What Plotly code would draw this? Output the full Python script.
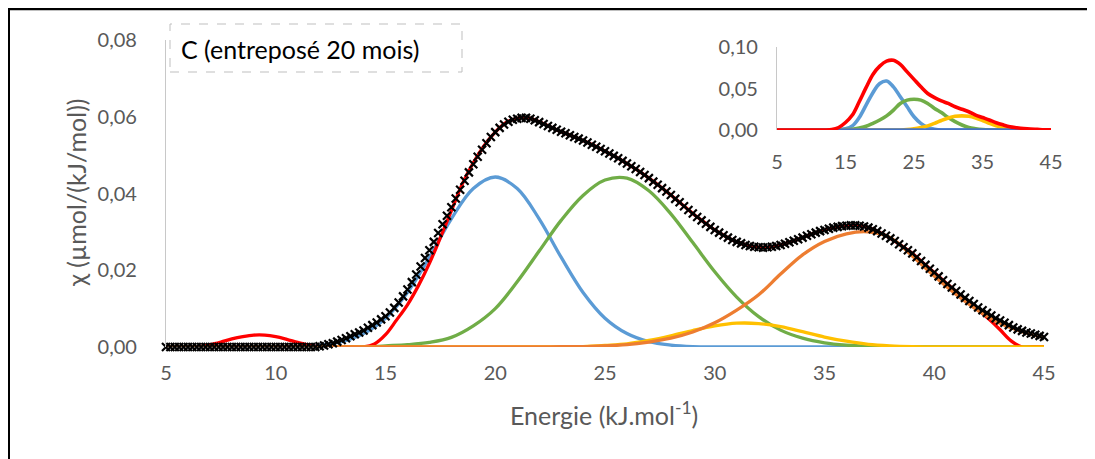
import numpy as np
import plotly.graph_objects as go

# The page body has an 8px margin, so the figure is drawn 8px in from the window edge.
OFF = 8
W, H = 1095 - OFF, 459 - OFF

# ---------------- data (main chart) ----------------
energy_data = np.round(np.arange(5, 45.0001, 0.2), 1)
chi_data = [
    0, 0, 0, 0, 0, 0, 0, 0, 0, 0,
    0, 0, 0, 0, 0, 0, 0, 0, 0, 0,
    0, 0, 0, 0, 0, 0, 0, 0, 0, 0,
    0, 0, 0, 0, 0,
    0.0002, 0.0004, 0.0007, 0.0010, 0.0014, 0.0018, 0.0023, 0.0028, 0.0033, 0.0038,
    0.0043, 0.0050, 0.0057, 0.0064, 0.0072, 0.0080, 0.0090, 0.0102, 0.0116, 0.0132,
    0.0150, 0.0169, 0.0189, 0.0210, 0.0232, 0.0252, 0.0274, 0.0297, 0.0320, 0.0342,
    0.0364, 0.0387, 0.0410, 0.0433, 0.0455, 0.0476, 0.0496, 0.0514, 0.0531, 0.0547,
    0.0560, 0.0571, 0.0580, 0.0587, 0.0592, 0.0595, 0.0597, 0.0597, 0.0595, 0.0591,
    0.0586, 0.0581, 0.0576, 0.0571, 0.0566, 0.0561, 0.0557, 0.0552, 0.0547, 0.0543,
    0.0538, 0.0533, 0.0527, 0.0522, 0.0516, 0.0510, 0.0504, 0.0498, 0.0492, 0.0485,
    0.0478, 0.0471, 0.0464, 0.0456, 0.0448, 0.0440, 0.0431, 0.0423, 0.0414, 0.0405,
    0.0396, 0.0386, 0.0377, 0.0367, 0.0357, 0.0348, 0.0339, 0.0330, 0.0321, 0.0313,
    0.0305, 0.0298, 0.0291, 0.0285, 0.0279, 0.0274, 0.0270, 0.0266, 0.0263, 0.0261,
    0.0260, 0.0259, 0.0260, 0.0261, 0.0263, 0.0266, 0.0269, 0.0273, 0.0277, 0.0281,
    0.0285, 0.0290, 0.0294, 0.0298, 0.0302, 0.0305, 0.0308, 0.0311, 0.0313, 0.0315,
    0.0316, 0.0317, 0.0317, 0.0316, 0.0314, 0.0311, 0.0307, 0.0302, 0.0296, 0.0290,
    0.0283, 0.0276, 0.0268, 0.0260, 0.0252, 0.0244, 0.0234, 0.0224, 0.0214, 0.0204,
    0.0194, 0.0184, 0.0174, 0.0164, 0.0155, 0.0146, 0.0137, 0.0128, 0.0120, 0.0112,
    0.0103, 0.0096, 0.0089, 0.0082, 0.0075, 0.0069, 0.0063, 0.0057, 0.0051, 0.0046,
    0.0042, 0.0038, 0.0035, 0.0032, 0.0029, 0.0026,
]

energy_fit = np.round(np.arange(5, 45.0001, 0.5), 1)
chi_fit = [
    0, 0, 0, 0.0001, 0.0006, 0.0013, 0.0021, 0.0027, 0.0031, 0.0031,
    0.0027, 0.0020, 0.0012, 0.0005, 0.0001, 0, 0, 0, 0, 0.0008,
    0.0032, 0.0070, 0.0110, 0.0160, 0.0218, 0.0285, 0.0355, 0.0425, 0.0480, 0.0525,
    0.0560, 0.0585, 0.0596, 0.0597, 0.0587, 0.0574, 0.0561, 0.0550, 0.0538, 0.0525,
    0.0510, 0.0495, 0.0478, 0.0460, 0.0440, 0.0419, 0.0396, 0.0372, 0.0348, 0.0326,
    0.0305, 0.0288, 0.0274, 0.0265, 0.0260, 0.0260, 0.0266, 0.0275, 0.0285, 0.0296,
    0.0305, 0.0312, 0.0316, 0.0317, 0.0311, 0.0299, 0.0283, 0.0264, 0.0244, 0.0219,
    0.0194, 0.0169, 0.0144, 0.0120, 0.0097, 0.0072, 0.0045, 0.0016, 0, 0,
    0,
]

energy_comp = list(range(5, 46))
chi_blue = [
    0, 0, 0, 0, 0, 0, 0.0001, 0.0005, 0.0014, 0.0035,
    0.0075, 0.0142, 0.0234, 0.0334, 0.0413, 0.0443, 0.0413, 0.0334, 0.0234, 0.0142,
    0.0075, 0.0035, 0.0014, 0.0005, 0.0001, 0, 0, 0, 0, 0,
    0, 0, 0, 0, 0, 0, 0, 0, 0, 0, 0,
]
chi_green = [
    0, 0, 0, 0, 0, 0, 0, 0, 0, 0,
    0.0003, 0.0006, 0.0012, 0.0025, 0.0055, 0.0100, 0.0170, 0.0250, 0.0330, 0.0395,
    0.0435, 0.0440, 0.0407, 0.0347, 0.0272, 0.0196, 0.0130, 0.0079, 0.0044, 0.0023,
    0.0011, 0.0005, 0.0002, 0.0001, 0, 0, 0, 0, 0, 0, 0,
]
chi_yellow = [
    0, 0, 0, 0, 0, 0, 0, 0, 0, 0,
    0, 0, 0, 0, 0, 0, 0, 0, 0, 0.0001,
    0.0004, 0.0008, 0.0017, 0.0029, 0.0043, 0.0055, 0.0062, 0.0061, 0.0053, 0.0040,
    0.0026, 0.0015, 0.0007, 0.0003, 0.0001, 0, 0, 0, 0, 0, 0,
]
chi_orange = [
    0, 0, 0, 0, 0, 0, 0, 0, 0, 0,
    0, 0, 0, 0, 0, 0, 0, 0, 0.0001, 0.0001,
    0.0003, 0.0006, 0.0013, 0.0023, 0.0039, 0.0063, 0.0096, 0.0136, 0.0190, 0.0240,
    0.0275, 0.0295, 0.0300, 0.0285, 0.0237, 0.0185, 0.0137, 0.0095, 0.0062, 0.0040,
    0.0025,
]

# ---------------- data (inset) ----------------
inset_red = [
    0, 0, 0, 0, 0, 0, 0, 0, 0.0005, 0.003,
    0.009, 0.018, 0.034, 0.051, 0.067, 0.077, 0.083, 0.084, 0.079, 0.070,
    0.061, 0.052, 0.044, 0.039, 0.035, 0.032, 0.028, 0.025, 0.022, 0.018,
    0.015, 0.012, 0.0088, 0.0062, 0.004, 0.0028, 0.0018, 0.0011, 0.0007, 0.0003,
    0.0001,
]
inset_blue = [
    0, 0, 0, 0, 0, 0, 0, 0, 0, 0.0005,
    0.0015, 0.005, 0.015, 0.030, 0.045, 0.056, 0.059, 0.052, 0.040, 0.028,
    0.016, 0.008, 0.003, 0.001, 0, 0, 0, 0, 0, 0,
    0, 0, 0, 0, 0, 0, 0, 0, 0, 0, 0,
]
inset_green = [
    0, 0, 0, 0, 0, 0, 0, 0, 0, 0,
    0.0005, 0.001, 0.0025, 0.0045, 0.008, 0.012, 0.017, 0.024, 0.032, 0.036,
    0.037, 0.036, 0.032, 0.026, 0.021, 0.015, 0.010, 0.006, 0.003, 0.0015,
    0.0005, 0, 0, 0, 0, 0, 0, 0, 0, 0, 0,
]
inset_yellow = [
    0, 0, 0, 0, 0, 0, 0, 0, 0, 0,
    0, 0, 0, 0, 0, 0, 0, 0, 0, 0.0005,
    0.0015, 0.003, 0.005, 0.008, 0.0115, 0.0145, 0.0165, 0.017, 0.0165, 0.0145,
    0.0115, 0.008, 0.005, 0.003, 0.0015, 0.0005, 0, 0, 0, 0, 0,
]
inset_base = [0] * 41

x_ticks_main = [5, 10, 15, 20, 25, 30, 35, 40, 45]
y_ticks_main = [0, 0.02, 0.04, 0.06, 0.08]
x_ticks_inset = [5, 15, 25, 35, 45]
y_ticks_inset = [0, 0.05, 0.10]

BLUE, GREEN, ORANGE, YELLOW, RED, DBLUE = "#5B9BD5", "#70AD47", "#ED7D31", "#FFC000", "#FF0000", "#4472C4"
FONT = "Lato"
TICKC = "#595959"
TICK_SIZE = 20
TITLE_SIZE = 25

fig = go.Figure()


def line(x, y, color, xa="x", ya="y", w=3.3):
    fig.add_trace(go.Scatter(x=x, y=y, mode="lines",
                             line=dict(color=color, width=w, shape="spline", smoothing=1.0),
                             xaxis=xa, yaxis=ya, cliponaxis=False, showlegend=False, hoverinfo="skip"))


# main chart
line(energy_comp, chi_blue, BLUE)
line(energy_comp, chi_green, GREEN)
line(energy_fit, chi_fit, RED)
line(energy_comp, chi_yellow, YELLOW)
line(energy_comp, chi_orange, ORANGE)
fig.add_trace(go.Scatter(x=energy_data, y=chi_data, mode="markers",
                         marker=dict(symbol="x-thin", size=8, color="black",
                                     line=dict(color="black", width=2.2)),
                         cliponaxis=False, showlegend=False, hoverinfo="skip"))

# inset
line(energy_comp, inset_blue, BLUE, "x2", "y2", 3.6)
line(energy_comp, inset_green, GREEN, "x2", "y2", 3.6)
line(energy_comp, inset_yellow, YELLOW, "x2", "y2", 3.6)
line(energy_comp, inset_base, DBLUE, "x2", "y2", 3.6)
line(energy_comp, inset_red, RED, "x2", "y2", 3.6)


def px_x(p):
    return (p - OFF) / W


def px_y(p):
    return 1 - (p - OFF) / H


fig.update_layout(
    width=W, height=H,
    margin=dict(l=0, r=0, t=0, b=0),
    paper_bgcolor="white", plot_bgcolor="rgba(0,0,0,0)",
    separators=", ",
    font=dict(family=FONT, color=TICKC, size=TICK_SIZE),
    xaxis=dict(domain=[px_x(166), px_x(1044)], range=[5, 45], tickvals=x_ticks_main,
               showgrid=False, zeroline=False, showline=False, ticks="",
               ticklabelstandoff=12, tickfont=dict(size=TICK_SIZE, color=TICKC), automargin=False),
    yaxis=dict(domain=[px_y(347), px_y(40)], range=[0, 0.08], tickvals=y_ticks_main, tickformat=".2f",
               showgrid=False, zeroline=False, showline=True, linecolor="#C8C8C8", linewidth=1.2,
               ticks="", ticklabelstandoff=24, tickfont=dict(size=TICK_SIZE, color=TICKC), automargin=False),
    xaxis2=dict(domain=[px_x(777), px_x(1051)], range=[5, 45], tickvals=x_ticks_inset, anchor="y2",
                showgrid=False, zeroline=False, showline=False, ticks="",
                ticklabelstandoff=18, tickfont=dict(size=TICK_SIZE, color=TICKC), automargin=False),
    yaxis2=dict(domain=[px_y(130), px_y(47)], range=[0, 0.10], tickvals=y_ticks_inset, tickformat=".2f",
                anchor="x2", showgrid=False, zeroline=False, showline=True, linecolor="#C8C8C8", linewidth=1.2,
                ticks="", ticklabelstandoff=14, tickfont=dict(size=TICK_SIZE, color=TICKC), automargin=False),
    shapes=[
        dict(type="rect", xref="paper", yref="paper", x0=px_x(170), x1=px_x(462), y0=px_y(72), y1=px_y(24),
             line=dict(color="#BFBFBF", width=1, dash="dash"), fillcolor="white", layer="below"),
        dict(type="line", xref="paper", yref="paper", x0=0.5 / W, x1=0.5 / W, y0=1, y1=0,
             line=dict(color="black", width=3)),
        dict(type="line", xref="paper", yref="paper", x0=0, x1=1, y0=1 - 1 / H, y1=1 - 1 / H,
             line=dict(color="black", width=2.5)),
    ],
    annotations=[
        dict(text="C (entreposé 20 mois)", xref="paper", yref="paper", x=px_x(179), y=px_y(49),
             xanchor="left", yanchor="middle", showarrow=False,
             font=dict(size=TITLE_SIZE, color="#000000", family=FONT)),
        dict(text="Energie (kJ.mol<sup>-1</sup>)", xref="paper", yref="paper", x=px_x(604), y=px_y(413),
             xanchor="center", yanchor="middle", showarrow=False,
             font=dict(size=TITLE_SIZE, color=TICKC, family=FONT)),
        dict(text="χ (µmol/(kJ/mol))", xref="paper", yref="paper", x=px_x(76), y=px_y(193), textangle=-90,
             xanchor="center", yanchor="middle", showarrow=False,
             font=dict(size=TITLE_SIZE, color=TICKC, family=FONT)),
    ],
)

fig.write_html("out.html")
